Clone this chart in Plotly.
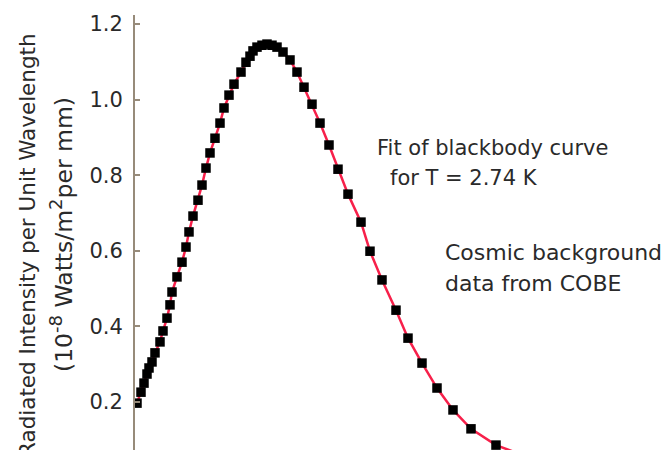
import plotly.graph_objects as go

# Wavelength (mm) and radiated intensity (1e-8 W/m^2 per mm)
wavelength = [0.500, 0.516, 0.528, 0.540, 0.548, 0.560, 0.572, 0.592, 0.604, 0.620,
              0.632, 0.640, 0.660, 0.680, 0.696, 0.708, 0.724, 0.744, 0.760, 0.776,
              0.792, 0.812, 0.832, 0.848, 0.868, 0.888, 0.916, 0.936, 0.952, 0.964,
              0.980, 1.000, 1.020, 1.040, 1.060, 1.084, 1.112, 1.140, 1.168, 1.200,
              1.232, 1.268, 1.304, 1.344, 1.396, 1.432, 1.480, 1.536, 1.584, 1.640,
              1.700, 1.764, 1.836, 1.936]
cobe_intensity = [0.197, 0.226, 0.250, 0.274, 0.290, 0.306, 0.330, 0.359, 0.388, 0.422,
                  0.457, 0.491, 0.531, 0.570, 0.610, 0.650, 0.692, 0.734, 0.774, 0.819,
                  0.859, 0.898, 0.938, 0.978, 1.012, 1.041, 1.073, 1.099, 1.115, 1.129,
                  1.139, 1.144, 1.147, 1.144, 1.139, 1.126, 1.105, 1.073, 1.033, 0.988,
                  0.938, 0.880, 0.816, 0.750, 0.676, 0.599, 0.523, 0.443, 0.369, 0.303,
                  0.237, 0.179, 0.129, 0.086]

# Fit curve (T = 2.74 K); continues past the last data point
fit_wavelength = wavelength + [2.080]
fit_intensity = cobe_intensity + [0.050]

y_ticks = [0.2, 0.4, 0.6, 0.8, 1.0, 1.2]

FONT = "DejaVu Sans"
TXT = "#2a2a2a"
AXIS = "#978b7a"

# the page body has an 8px margin: figure is placed at (8, 8) in the window
OFF = 8
W, H = 672 - OFF, 450 - OFF
L, T = 135 - OFF, 15 - OFF
PW, PH = W - L, H - T


def px(x_page):
    return (x_page - 135) / PW


def py(y_page):
    return (450 - y_page) / PH


fig = go.Figure()
fig.add_trace(go.Scatter(x=fit_wavelength, y=fit_intensity, mode="lines",
                         line=dict(color="#f7204a", width=2.5), hoverinfo="skip"))
fig.add_trace(go.Scatter(x=wavelength, y=cobe_intensity, mode="markers",
                         marker=dict(symbol="square", size=9.5, color="#000000",
                                     line=dict(width=0))))

fig.update_layout(
    width=W, height=H,
    margin=dict(l=L, r=0, t=T, b=0, autoexpand=False),
    paper_bgcolor="white", plot_bgcolor="white",
    showlegend=False,
    font=dict(family=FONT, size=21, color=TXT),
    xaxis=dict(range=[0.492, 2.64], visible=False, showgrid=False, zeroline=False,
               automargin=False),
    yaxis=dict(range=[0.073, 1.224], tickvals=y_ticks,
               ticktext=[f"{v:.1f}" for v in y_ticks],
               ticks="inside", ticklen=5, tickwidth=2, tickcolor=AXIS,
               showline=True, linecolor=AXIS, linewidth=2,
               showgrid=False, zeroline=False, ticklabelstandoff=6,
               automargin=False,
               tickfont=dict(family=FONT, size=21, color=TXT)),
)

ann = dict(showarrow=False, xref="paper", yref="paper")
f21 = dict(family=FONT, size=21, color=TXT)
fig.add_annotation(text="Radiated Intensity per Unit Wavelength", textangle=-90,
                   x=px(27), y=py(245), xanchor="center", yanchor="middle",
                   font=dict(family=FONT, size=21.5, color=TXT), **ann)
fig.add_annotation(text="(10<sup><span style='font-size:18px'>-8</span></sup> Watts/m"
                        "<sup><span style='font-size:18px'>2</span></sup>per mm)",
                   textangle=-90, x=px(61), y=py(235), xanchor="center", yanchor="middle",
                   font=dict(family=FONT, size=23.5, color=TXT), **ann)
fig.add_annotation(text="Fit of blackbody curve", x=px(375), y=py(148),
                   xanchor="left", yanchor="middle", font=f21, **ann)
fig.add_annotation(text="for T = 2.74 K", x=px(388), y=py(178),
                   xanchor="left", yanchor="middle", font=f21, **ann)
fig.add_annotation(text="Cosmic background", x=px(443), y=py(252),
                   xanchor="left", yanchor="middle", font=dict(family=FONT, size=22, color=TXT), **ann)
fig.add_annotation(text="data from COBE", x=px(443), y=py(283),
                   xanchor="left", yanchor="middle", font=dict(family=FONT, size=22, color=TXT), **ann)

fig.write_html("out.html")
